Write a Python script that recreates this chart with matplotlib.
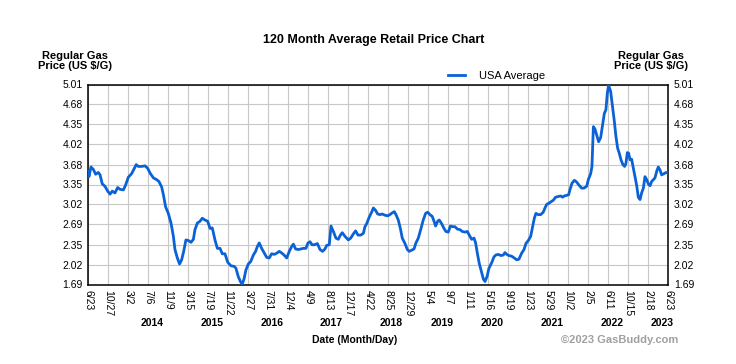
import pandas as pd
import matplotlib
matplotlib.use('Agg')
import matplotlib.pyplot as plt

# data
start = pd.Timestamp('2013-06-23')
days_since_start = [
    0, 4, 17, 32, 46, 63, 74, 88, 105, 122, 137, 151, 168, 185, 200, 221, 235, 252, 273, 290,
    302, 315, 336, 357, 374, 389, 410, 431, 445, 462, 473, 487, 504, 521, 536, 546, 561, 575, 588, 601,
    615, 630, 647, 662, 672, 687, 704, 718, 735, 752, 767, 781, 798, 813, 830, 844, 861, 878, 899, 920,
    930, 945, 960, 970, 981, 993, 1008, 1023, 1040, 1054, 1065, 1077, 1092, 1109, 1124, 1140, 1155, 1172, 1187, 1203,
    1220, 1233, 1250, 1266, 1281, 1292, 1306, 1323, 1338, 1355, 1371, 1384, 1397, 1409, 1426, 1443, 1460, 1476, 1491, 1502,
    1518, 1529, 1544, 1560, 1575, 1586, 1600, 1617, 1638, 1653, 1670, 1684, 1699, 1716, 1733, 1743, 1754, 1770, 1785, 1796,
    1810, 1823, 1838, 1852, 1869, 1886, 1900, 1915, 1928, 1940, 1953, 1966, 1978, 1995, 2010, 2022, 2037, 2052, 2064, 2079,
    2094, 2110, 2125, 2138, 2152, 2167, 2178, 2188, 2201, 2211, 2226, 2241, 2253, 2268, 2281, 2295, 2310, 2325, 2342, 2356,
    2373, 2388, 2400, 2415, 2430, 2440, 2451, 2463, 2478, 2489, 2499, 2512, 2524, 2541, 2556, 2568, 2583, 2600, 2615, 2625,
    2636, 2650, 2667, 2684, 2699, 2713, 2730, 2745, 2757, 2772, 2787, 2799, 2810, 2820, 2835, 2850, 2866, 2877, 2888, 2902,
    2919, 2930, 2944, 2961, 2976, 2988, 2999, 3014, 3026, 3034, 3047, 3062, 3077, 3091, 3108, 3123, 3140, 3150, 3165, 3173,
    3182, 3192, 3203, 3215, 3228, 3240, 3251, 3261, 3270, 3278, 3291, 3303, 3314, 3324, 3335, 3345, 3356, 3368, 3379, 3387,
    3396, 3404, 3413, 3423, 3434, 3444, 3455, 3465, 3476, 3486, 3497, 3507, 3518, 3528, 3539, 3549, 3560, 3570, 3581, 3591,
    3602, 3612, 3627, 3640, 3654,
]
usa_average = [
    3.57, 3.48, 3.64, 3.60, 3.52, 3.55, 3.51, 3.36, 3.32, 3.24, 3.19, 3.24, 3.21, 3.30, 3.27, 3.26, 3.34, 3.47, 3.53, 3.62,
    3.68, 3.65, 3.65, 3.66, 3.62, 3.54, 3.46, 3.43, 3.40, 3.31, 3.18, 2.98, 2.87, 2.71, 2.49, 2.27, 2.13, 2.03, 2.10, 2.24,
    2.43, 2.42, 2.39, 2.44, 2.60, 2.71, 2.74, 2.79, 2.76, 2.74, 2.62, 2.63, 2.43, 2.29, 2.29, 2.20, 2.20, 2.06, 2.00, 1.99,
    1.96, 1.82, 1.73, 1.70, 1.78, 1.93, 2.03, 2.07, 2.18, 2.24, 2.32, 2.38, 2.29, 2.21, 2.14, 2.13, 2.20, 2.19, 2.21, 2.24,
    2.21, 2.18, 2.13, 2.24, 2.32, 2.36, 2.28, 2.27, 2.28, 2.29, 2.29, 2.38, 2.40, 2.35, 2.35, 2.37, 2.27, 2.24, 2.28, 2.34,
    2.35, 2.66, 2.57, 2.46, 2.44, 2.50, 2.55, 2.49, 2.43, 2.46, 2.53, 2.58, 2.51, 2.51, 2.54, 2.65, 2.70, 2.81, 2.89, 2.96,
    2.92, 2.86, 2.85, 2.86, 2.84, 2.83, 2.85, 2.88, 2.90, 2.84, 2.76, 2.62, 2.46, 2.37, 2.27, 2.24, 2.26, 2.28, 2.38, 2.46,
    2.60, 2.76, 2.87, 2.89, 2.85, 2.82, 2.74, 2.66, 2.74, 2.76, 2.70, 2.62, 2.57, 2.56, 2.66, 2.65, 2.65, 2.61, 2.60, 2.57,
    2.56, 2.57, 2.51, 2.44, 2.46, 2.38, 2.21, 2.04, 1.89, 1.78, 1.74, 1.82, 1.96, 2.05, 2.15, 2.18, 2.19, 2.17, 2.18, 2.22,
    2.19, 2.17, 2.16, 2.13, 2.10, 2.11, 2.21, 2.27, 2.37, 2.42, 2.49, 2.65, 2.79, 2.87, 2.85, 2.85, 2.89, 2.96, 3.02, 3.04,
    3.07, 3.09, 3.14, 3.15, 3.16, 3.14, 3.16, 3.17, 3.18, 3.26, 3.37, 3.42, 3.39, 3.34, 3.29, 3.29, 3.32, 3.43, 3.53, 3.65,
    4.31, 4.27, 4.17, 4.06, 4.13, 4.34, 4.53, 4.59, 4.87, 5.00, 4.89, 4.64, 4.40, 4.15, 3.95, 3.87, 3.76, 3.68, 3.65, 3.70,
    3.88, 3.87, 3.76, 3.77, 3.62, 3.48, 3.33, 3.14, 3.10, 3.21, 3.29, 3.48, 3.43, 3.36, 3.33, 3.40, 3.43, 3.46, 3.57, 3.64,
    3.59, 3.51, 3.53, 3.55, 3.54,
]

tick_labels = ['6/23', '10/27', '3/2', '7/6', '11/9', '3/15', '7/19', '11/22', '3/27', '7/31',
               '12/4', '4/9', '8/13', '12/17', '4/22', '8/25', '12/29', '5/4', '9/7', '1/11',
               '5/16', '9/19', '1/23', '5/29', '10/2', '2/5', '6/11', '10/15', '2/18', '6/23']
year_labels = ['2014', '2015', '2016', '2017', '2018', '2019', '2020', '2021', '2022', '2023']
year_label_dates = ['2014-07-27', '2015-08-09', '2016-08-21', '2017-09-03', '2018-09-16',
                    '2019-07-28', '2020-06-07', '2021-06-20', '2022-07-03', '2023-05-14']
price_ticks = [1.69, 2.02, 2.35, 2.69, 3.02, 3.35, 3.68, 4.02, 4.35, 4.68, 5.01]

plt.rcParams['font.family'] = ['Liberation Sans', 'DejaVu Sans']

dates = start + pd.to_timedelta(days_since_start, unit='D')
tick_dates = [start + pd.Timedelta(days=126 * i) for i in range(len(tick_labels))]

fig = plt.figure(figsize=(7.36, 3.64), dpi=100)
ax = fig.add_axes([88.3 / 736, 1 - 284.5 / 364, 580 / 736, 200 / 364])

ax.plot(dates, usa_average, color='#0b62d6', linewidth=2.0, label='USA Average', zorder=3)

ax.set_xlim(tick_dates[0], tick_dates[-1])
ax.set_ylim(price_ticks[0], price_ticks[-1])
ax.set_xticks(tick_dates)
ax.set_xticklabels(tick_labels, rotation=-90, fontsize=7.5, va='top')
ax.set_yticks(price_ticks)
ax.set_yticklabels(['%.2f' % p for p in price_ticks], fontsize=7.5)
ax.tick_params(axis='both', length=0, pad=4, labelright=True)
ax.grid(True, color='#c8c8c8', linewidth=0.8)
ax.set_axisbelow(True)
for s in ax.spines.values():
    s.set_linewidth(1.1)
    s.set_color('black')

for lab, d in zip(year_labels, year_label_dates):
    ax.text(pd.Timestamp(d), -0.19, lab, transform=ax.get_xaxis_transform(),
            ha='center', va='center', fontsize=7.5, fontweight='bold')

ax.legend(loc='lower left', bbox_to_anchor=(0.612, 0.995), frameon=False, fontsize=8,
          handlelength=1.6, borderaxespad=0, handletextpad=1.2)

fig.text(374 / 736, 1 - 40 / 364, '120 Month Average Retail Price Chart', ha='center', va='center',
         fontsize=9, fontweight='bold')
fig.text(75 / 736, 1 - 61 / 364, 'Regular Gas\nPrice (US $/G)', ha='center', va='center',
         fontsize=8, fontweight='bold', linespacing=1.05)
fig.text(651 / 736, 1 - 61 / 364, 'Regular Gas\nPrice (US $/G)', ha='center', va='center',
         fontsize=8, fontweight='bold', linespacing=1.05)
fig.text(355 / 736, 1 - 340 / 364, 'Date (Month/Day)', ha='center', va='center',
         fontsize=7.5, fontweight='bold')
fig.text(678 / 736, 1 - 340 / 364, '\u00a92023 GasBuddy.com', ha='right', va='center',
         fontsize=8, fontweight='bold', color='#a0a0a0')

fig.savefig('out.png', dpi=100)
